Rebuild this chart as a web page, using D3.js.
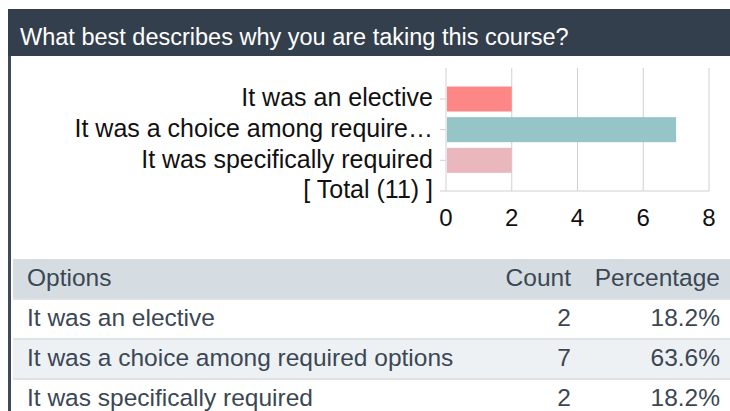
<!DOCTYPE html>
<html>
<head>
<meta charset="utf-8">
<script src="https://cdn.jsdelivr.net/npm/d3@7"></script>
<style>
  body { margin: 0; background: #fff; }
  svg { display: block; font-family: "Liberation Sans", Arial, sans-serif; }
</style>
</head>
<body>
<script>
// question + answers
const title = "What best describes why you are taking this course?";
const barLabels = ["It was an elective", "It was a choice among require\u2026", "It was specifically required", "[ Total (11) ]"];
const barValues = [2, 7, 2, 0];
const barColors = ["#fd8787", "#95c5c7", "#e9b7bc", "none"];
const xTicks = [0, 2, 4, 6, 8];

const options = ["It was an elective", "It was a choice among required options", "It was specifically required"];
const counts = [2, 7, 2];
const percents = ["18.2%", "63.6%", "18.2%"];

const w = 730;
const h = 411;

const svg = d3.select("body")
    .append("svg")
    .attr("width", w)
    .attr("height", h);

// panel header + left border
svg.append("rect").attr("x", 8).attr("y", 9).attr("width", w - 8).attr("height", 47).attr("fill", "#343f4d");
svg.append("rect").attr("x", 8).attr("y", 56).attr("width", 3).attr("height", h - 56).attr("fill", "#3e4a58");
svg.append("text")
    .attr("x", 20).attr("y", 45)
    .attr("fill", "#fff")
    .attr("font-size", 23.5)
    .text(title);

// bar chart
const x = d3.scaleLinear().domain([0, 8]).range([446, 709]);
const y = d3.scalePoint().domain(barLabels).range([99, 191]);
const plotTop = 68, plotBase = 191;

svg.selectAll("line.grid")
    .data(xTicks)
    .enter()
    .append("line")
    .attr("class", "grid")
    .attr("x1", d => x(d)).attr("x2", d => x(d))
    .attr("y1", plotTop).attr("y2", plotBase)
    .attr("stroke", "#d0d0d0");

svg.selectAll("line.ytick")
    .data(barLabels)
    .enter()
    .append("line")
    .attr("x1", x(0) - 6).attr("x2", x(0))
    .attr("y1", d => y(d)).attr("y2", d => y(d))
    .attr("stroke", "#d0d0d0");

svg.append("line")
    .attr("x1", x(0)).attr("x2", x(8))
    .attr("y1", plotBase).attr("y2", plotBase)
    .attr("stroke", "#d0d0d0");

svg.selectAll("rect.bar")
    .data(barValues)
    .enter()
    .append("rect")
    .attr("x", x(0) + 1)
    .attr("y", (d, i) => y(barLabels[i]) - 12.5)
    .attr("width", d => Math.max(0, x(d) - x(0) - 1))
    .attr("height", 25)
    .attr("fill", (d, i) => barColors[i]);

svg.selectAll("text.ylab")
    .data(barLabels)
    .enter()
    .append("text")
    .attr("x", 433)
    .attr("y", d => y(d))
    .attr("dy", "0.29em")
    .attr("text-anchor", "end")
    .attr("font-size", 25)
    .attr("fill", "#111")
    .text(d => d);

svg.selectAll("text.xlab")
    .data(xTicks)
    .enter()
    .append("text")
    .attr("x", d => x(d))
    .attr("y", 218)
    .attr("dy", "0.35em")
    .attr("text-anchor", "middle")
    .attr("font-size", 24)
    .attr("fill", "#111")
    .text(d => d);

// table
const rowY = d3.scaleBand().domain(d3.range(4)).range([259, 419]);
const tx = 13;
const txtCol = "#3b4754";
const fs = 24.5;

svg.append("rect").attr("x", tx).attr("y", rowY(0)).attr("width", w - tx).attr("height", rowY.bandwidth()).attr("fill", "#d6dde2");
svg.append("rect").attr("x", tx).attr("y", rowY(2)).attr("width", w - tx).attr("height", rowY.bandwidth()).attr("fill", "#edf1f4");
[1, 2, 3].forEach(i => {
  svg.append("rect").attr("x", tx).attr("y", rowY(i) - 1).attr("width", w - tx).attr("height", 2).attr("fill", "#dce2e6");
});

const header = svg.append("g").attr("font-size", fs).attr("fill", txtCol);
header.append("text").attr("x", 27).attr("y", rowY(0) + 20).attr("dy", "0.3em").text("Options");
header.append("text").attr("x", 571).attr("y", rowY(0) + 20).attr("dy", "0.3em").attr("text-anchor", "end").text("Count");
header.append("text").attr("x", 720).attr("y", rowY(0) + 20).attr("dy", "0.3em").attr("text-anchor", "end").text("Percentage");

const rows = svg.selectAll("g.row")
    .data(options)
    .enter()
    .append("g")
    .attr("font-size", fs)
    .attr("fill", txtCol)
    .attr("transform", (d, i) => `translate(0,${rowY(i + 1) + 20})`);

rows.append("text").attr("x", 27).attr("dy", "0.29em").text(d => d);
rows.append("text").attr("x", 571).attr("dy", "0.29em").attr("text-anchor", "end").text((d, i) => counts[i]);
rows.append("text").attr("x", 720).attr("dy", "0.29em").attr("text-anchor", "end").text((d, i) => percents[i]);
</script>
</body>
</html>
